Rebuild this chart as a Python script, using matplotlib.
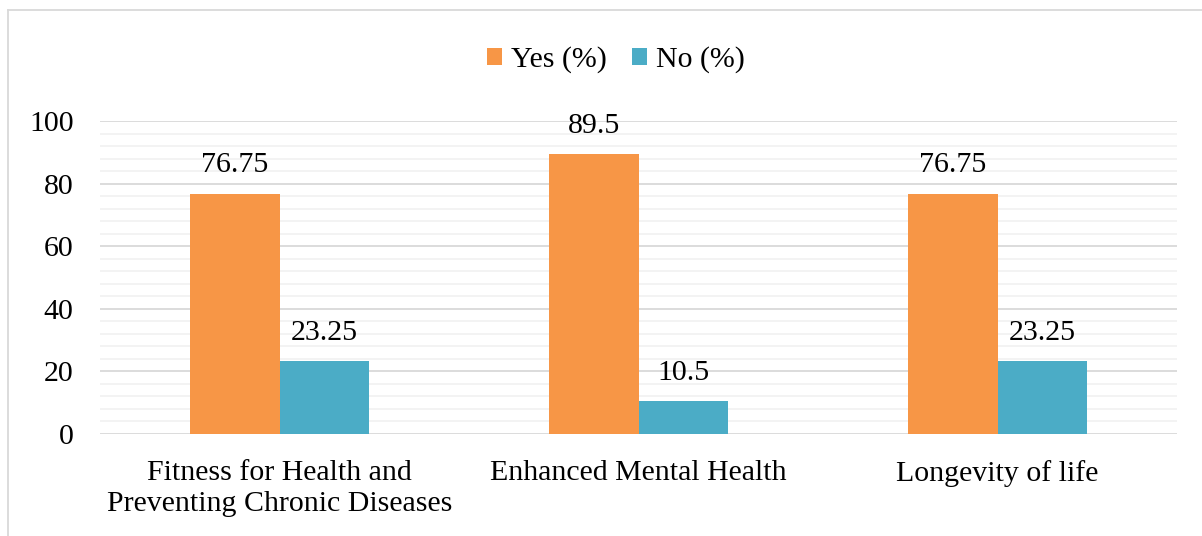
import matplotlib.pyplot as plt
import numpy as np
from matplotlib.lines import Line2D

categories = ["Fitness for Health and\nPreventing Chronic Diseases",
              "Enhanced Mental Health",
              "Longevity of life"]
yes_pct = [76.75, 89.5, 76.75]
no_pct = [23.25, 10.5, 23.25]
series_names = ["Yes (%)", "No (%)"]

plt.rcParams['font.family'] = ['Liberation Serif', 'DejaVu Serif']
fs = 21.5

fig = plt.figure(figsize=(12.02, 5.36), dpi=100)
ax = fig.add_axes([100 / 1202, 1 - 434 / 536, 1077 / 1202, 313 / 536])

x = np.arange(len(categories))
w = 0.25
b1 = ax.bar(x - w / 2, yes_pct, w, color='#F79646', label=series_names[0], zorder=3)
b2 = ax.bar(x + w / 2, no_pct, w, color='#4BACC6', label=series_names[1], zorder=3)

for bars in (b1, b2):
    ax.bar_label(bars, labels=[f"{v:g}" for v in bars.datavalues],
                 padding=11, fontsize=fs)

ax.set_xlim(-0.5, 2.5)
ax.set_ylim(0, 100)
ax.set_yticks(range(0, 101, 20))
ax.set_yticks(range(0, 101, 4), minor=True)
ax.grid(axis='y', which='major', color='#D9D9D9', linewidth=1.3, zorder=0)
ax.grid(axis='y', which='minor', color='#F2F2F2', linewidth=1.3, zorder=0)
ax.tick_params(axis='both', which='both', length=0, labelsize=fs)
ax.tick_params(axis='y', pad=19)
ax.tick_params(axis='x', pad=19)
ax.set_xticks(x)
ax.set_xticklabels(categories, linespacing=1.22)
for s in ax.spines.values():
    s.set_visible(False)

ax.legend(loc='center', bbox_to_anchor=(0.479, (434 - 60) / 313), ncol=2,
          frameon=False, fontsize=fs, handlelength=0.5, handleheight=0.5,
          handletextpad=0.3, columnspacing=0.85)

# light frame around the chart area
fig.add_artist(Line2D([8 / 1202, 8 / 1202], [0, 1 - 10 / 536],
                      transform=fig.transFigure, color='#D9D9D9', lw=1.3))
fig.add_artist(Line2D([8 / 1202, 1], [1 - 10 / 536, 1 - 10 / 536],
                      transform=fig.transFigure, color='#D9D9D9', lw=1.3))

fig.savefig('out.png', dpi=100)
